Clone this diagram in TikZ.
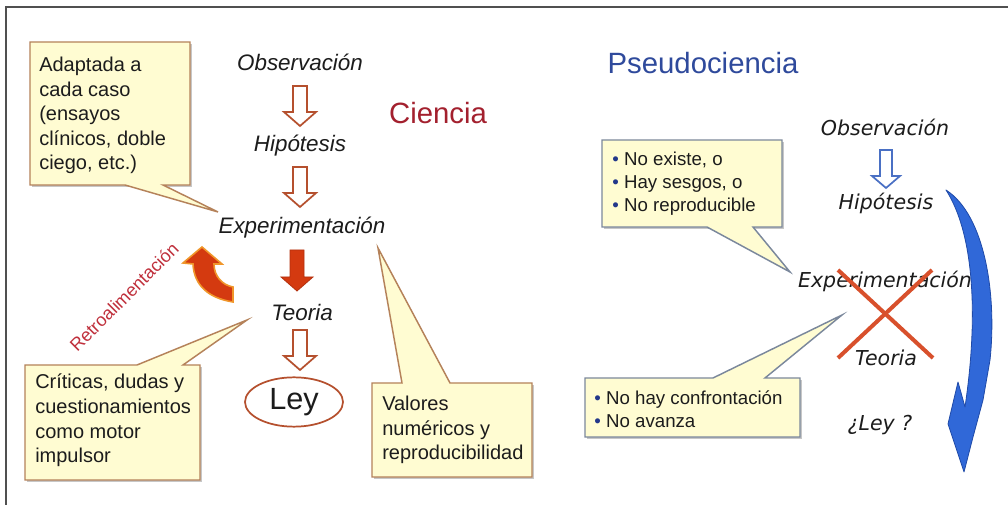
\documentclass[tikz,border=0pt]{standalone}
\usepackage{fontspec}
\setmainfont{Liberation Sans}
\newfontfamily\dvs{DejaVu Sans}
\usetikzlibrary{calc,shapes.geometric}
\definecolor{cfill}{HTML}{FFFCD2}
\definecolor{cbrown}{HTML}{B5825A}
\definecolor{cgrey}{HTML}{7B889C}
\definecolor{arbrown}{HTML}{B5502E}
\definecolor{arred}{HTML}{D43A10}
\definecolor{arorange}{HTML}{F0962A}
\definecolor{ciencia}{HTML}{A3202E}
\definecolor{pseudo}{HTML}{2F4A9C}
\definecolor{xred}{HTML}{D8502C}
\definecolor{bblue}{HTML}{3068D8}
\definecolor{bblueedge}{HTML}{1F4AA8}
\definecolor{bul}{HTML}{23388A}
\definecolor{txt}{HTML}{1C1C1C}
\definecolor{retro}{HTML}{C0303C}
\definecolor{framec}{HTML}{505050}
\definecolor{arblue}{HTML}{4A70C4}
\tikzset{
  calloutL/.style={fill=cfill, draw=cbrown, line width=1.1pt, line join=miter},
  calloutR/.style={fill=cfill, draw=cgrey, line width=1.1pt, line join=miter},
  cshadow/.style={fill=black!22},
  ctext/.style={anchor=north west, inner sep=0pt, align=left, text=txt, font=\fontsize{15}{18.4}\selectfont},
  btext/.style={anchor=north west, inner sep=0pt, align=left, text=txt, font=\fontsize{14}{17.3}\selectfont},
  stepL/.style={inner sep=0pt, text=txt, font=\fontsize{16.8}{20}\selectfont\itshape},
  stepR/.style={inner sep=0pt, text=txt, font=\dvs\fontsize{15.4}{18}\selectfont\itshape},
  hollowL/.style={fill=white, draw=arbrown, line width=1.3pt, line join=miter},
  hollowR/.style={fill=white, draw=arblue, line width=1.3pt, line join=miter},
  solidR/.style={fill=arred, draw=arred!85!black, line width=0.6pt, line join=miter},
}
\newcommand\blockarrow[4]{\path[#1] (#2-7,#3) -- (#2+7,#3) -- (#2+7,#4-14) -- (#2+16,#4-14) -- (#2,#4) -- (#2-16,#4-14) -- (#2-7,#4-14) -- cycle;}
\newcommand\blockarrowS[4]{\path[#1] (#2-6,#3) -- (#2+6,#3) -- (#2+6,#4-12) -- (#2+14,#4-12) -- (#2,#4) -- (#2-14,#4-12) -- (#2-6,#4-12) -- cycle;}
\begin{document}
\begin{tikzpicture}[x=0.75pt,y=-0.75pt]
\useasboundingbox (0,0) rectangle (1008,505);
\fill[white] (0,0) rectangle (1008,505);
\draw[framec, line width=1.1pt] (6,505) -- (6,7) -- (1008,7);

% ---------------- Ciencia ----------------
\node[text=ciencia, inner sep=0pt, font=\fontsize{22}{26}\selectfont] (ciencia) at (438,113) {Ciencia};

\node[stepL] (obsL) at (300,62) {Observación};
\node[stepL] (hipL) at (300,146) {Hipótesis};
\node[stepL] (expL) at (302,228) {Experimentación};
\node[stepL] (teoL) at (302,312) {Teoria};
\node[ellipse, draw=arbrown, line width=1.3pt, inner sep=0pt, minimum width=73.5pt, minimum height=37pt, text=txt, font=\fontsize{23}{26}\selectfont] (ley) at (294,402) {Ley};

\blockarrow{hollowL}{300}{86}{126}
\blockarrow{hollowL}{300}{167}{207}
\blockarrow{solidR}{297}{250}{291}
\blockarrow{hollowL}{300}{330}{370}

% feedback curved arrow
\path[fill=arred, draw=arorange, line width=1.2pt, line join=miter]
  (202,247) -- (222,264) -- (214,264)
  .. controls (214,276) and (222,285) .. (233,287)
  -- (233,302)
  .. controls (208,298) and (194,285) .. (193,264)
  -- (183,263) -- cycle;
\node[rotate=45, inner sep=0pt, text=retro, font=\fontsize{13.5}{16}\selectfont] (retro) at (124,297) {Retroalimentación};

% callout 1
\path[cshadow] (32,44) rectangle (192,187);
\path[calloutL] (30,42) -- (190,42) -- (190,185) -- (163,185) -- (218,212) -- (125,185) -- (30,185) -- cycle;
\node[ctext] (c1) at (39,57) {Adaptada a\\cada caso\\(ensayos\\clínicos, doble\\ciego, etc.)};

% callout 2
\path[cshadow] (27,367) rectangle (202,482);
\path[calloutL] (25,365) -- (137,365) -- (247,320) -- (183,365) -- (200,365) -- (200,480) -- (25,480) -- cycle;
\node[ctext] (c2) at (35,374) {Críticas, dudas y\\cuestionamientos\\como motor\\impulsor};

% callout 3
\path[cshadow] (374,385) rectangle (534,479);
\path[calloutL] (372,383) -- (402,383) -- (378,248) -- (450,383) -- (532,383) -- (532,477) -- (372,477) -- cycle;
\node[ctext] (c3) at (382,396) {Valores\\numéricos y\\reproducibilidad};

% ---------------- Pseudociencia ----------------
\node[text=pseudo, inner sep=0pt, font=\fontsize{22}{26}\selectfont] (pseudo) at (703,63) {Pseudociencia};

\node[stepR] (obsR) at (885,127) {Observación};
\node[stepR] (hipR) at (886,203) {Hipótesis};
\node[stepR] (expR) at (885,281) {Experimentación};
\node[stepR] (teoR) at (886,358) {Teoria};
\node[stepR] (leyR) at (880,425) {¿Ley ?};

\blockarrowS{hollowR}{886}{150}{188}

% red cross
\draw[xred, line width=3pt] (838,270) -- (933,358);
\draw[xred, line width=3pt] (932,270) -- (838,358);

% blue curved arrow
\path[fill=bblue, draw=bblueedge, line width=0.6pt, line join=round]
  (946,190) .. controls (985,215) and (997,295) .. (990,360)
  -- (983,400) -- (973,437) -- (964,472) -- (948,424) -- (958,382) -- (965,407)
  .. controls (978,320) and (975,235) .. (946,190) -- cycle;

% callout 4
\path[cshadow] (604,142) rectangle (784,229);
\path[calloutR] (602,140) -- (782,140) -- (782,227) -- (753,227) -- (790,272) -- (707,227) -- (602,227) -- cycle;
\node[btext] (c4) at (612,152) {\textcolor{bul}{•}\hspace{4pt}No existe, o\\\textcolor{bul}{•}\hspace{4pt}Hay sesgos, o\\\textcolor{bul}{•}\hspace{4pt}No reproducible};

% callout 5
\path[cshadow] (587,380) rectangle (802,439);
\path[calloutR] (585,378) -- (713,378) -- (842,315) -- (765,378) -- (800,378) -- (800,437) -- (585,437) -- cycle;
\node[btext] (c5) at (594,390) {\textcolor{bul}{•}\hspace{4pt}No hay confrontación\\\textcolor{bul}{•}\hspace{4pt}No avanza};
\end{tikzpicture}
\end{document}
